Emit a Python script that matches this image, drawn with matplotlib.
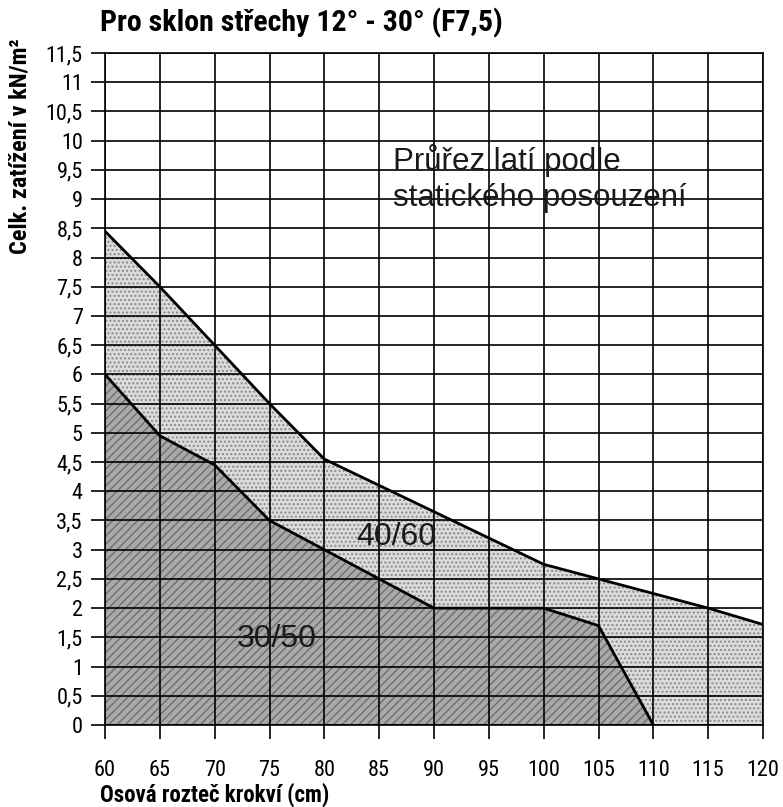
import matplotlib
matplotlib.use('Agg')
import matplotlib.pyplot as plt
from matplotlib import font_manager as fm
import numpy as np

# ---- data ----
x_upper = [60, 65, 70, 75, 80, 85, 90, 95, 100, 105, 110, 115, 120]
upper_40_60 = [8.45, 7.5, 6.5, 5.5, 4.55, 4.1, 3.65, 3.2, 2.75, 2.5, 2.25, 2.0, 1.72]
x_lower = [60, 65, 70, 75, 80, 85, 90, 95, 100, 105, 110]
lower_30_50 = [6.0, 4.95, 4.45, 3.5, 3.0, 2.5, 2.0, 2.0, 2.0, 1.7, 0.0]
x_ticks = [60, 65, 70, 75, 80, 85, 90, 95, 100, 105, 110, 115, 120]
y_ticks = [0, 0.5, 1, 1.5, 2, 2.5, 3, 3.5, 4, 4.5, 5, 5.5, 6, 6.5, 7, 7.5,
           8, 8.5, 9, 9.5, 10, 10.5, 11, 11.5]
y_tick_labels = ['0', '0,5', '1', '1,5', '2', '2,5', '3', '3,5', '4', '4,5',
                 '5', '5,5', '6', '6,5', '7', '7,5', '8', '8,5', '9', '9,5',
                 '10', '10,5', '11', '11,5']
title = 'Pro sklon střechy 12° - 30° (F7,5)'
x_label = 'Osová rozteč krokví (cm)'
y_label = 'Celk. zatížení v kN/m²'
zone_note = ['Průřez latí podle', 'statického posouzení']
label_upper = '40/60'
label_lower = '30/50'

# ---- fonts ----
names = {f.name for f in fm.fontManager.ttflist}
cond = None
for cand in ['Liberation Sans Narrow', 'DejaVu Sans Condensed', 'Roboto Condensed',
             'Open Sans Condensed']:
    if cand in names:
        cond = dict(family=cand)
        break
if cond is None:
    has_dv_cond = any(f.name == 'DejaVu Sans' and f.stretch == 'condensed'
                      for f in fm.fontManager.ttflist)
    cond = dict(family='DejaVu Sans', stretch='condensed' if has_dv_cond else 'normal')

W, H = 783, 807
fig = plt.figure(figsize=(W / 100, H / 100), dpi=100)
ax = fig.add_axes([105 / W, 1 - 725 / H, (763 - 105) / W, (725 - 53) / H])

# fills
xu = np.array(x_upper, dtype=float)
yu = np.array(upper_40_60, dtype=float)
xl = np.array(x_lower, dtype=float)
yl = np.array(lower_30_50, dtype=float)
ax.fill_between(xu, 0, yu, facecolor='#dcdcdc', edgecolor='none', zorder=1)
ax.fill_between(xu, 0, yu, facecolor='none', edgecolor='#8a8a8a', hatch='....',
                linewidth=0, zorder=1.1)
ax.fill_between(xl, 0, yl, facecolor='#a9a9a9', edgecolor='none', zorder=1.2)
ax.fill_between(xl, 0, yl, facecolor='none', edgecolor='#6e6e6e', hatch='////',
                linewidth=0, zorder=1.3)

ax.plot(xu, yu, color='black', lw=2.0, zorder=4, solid_joinstyle='miter')
ax.plot(xl, yl, color='black', lw=2.0, zorder=4, solid_joinstyle='miter')

ax.set_xlim(60, 120)
ax.set_ylim(0, 11.5)
ax.set_xticks(x_ticks)
ax.set_xticklabels([str(v) for v in x_ticks])
ax.set_yticks(y_ticks)
ax.set_yticklabels(y_tick_labels)
ax.grid(True, color='black', lw=1.2, zorder=2)
ax.set_axisbelow(False)
for s in ax.spines.values():
    s.set_color('black')
    s.set_linewidth(1.2)
    s.set_zorder(3)
ax.tick_params(axis='both', direction='out', length=10, width=1.2, colors='black')
ax.tick_params(axis='y', pad=6)
ax.tick_params(axis='x', pad=15)
for lab in ax.get_xticklabels() + ax.get_yticklabels():
    lab.set_fontsize(16)
    lab.set_family(cond['family'])
    if 'stretch' in cond:
        lab.set_stretch(cond['stretch'])

txt_kw = dict(family='Liberation Sans', color='#1a1a1a', zorder=5)
ax.text(86.3, 9.5, zone_note[0], fontsize=22.5, ha='left', va='baseline', **txt_kw)
ax.text(86.3, 8.88, zone_note[1], fontsize=22.5, ha='left', va='baseline', **txt_kw)
ax.text(86.6, 3.22, label_upper, fontsize=23, ha='center', va='center', **txt_kw)
ax.text(75.7, 1.47, label_lower, fontsize=23, ha='center', va='center', **txt_kw)

fig.text(100 / W, 1 - 23 / H, title, fontsize=21.5, fontweight='bold',
         ha='left', va='center', **cond)
fig.text(100 / W, 1 - 795 / H, x_label, fontsize=16.5, fontweight='bold',
         ha='left', va='center', **cond)
fig.text(20 / W, 1 - 38 / H, y_label, fontsize=17.5, fontweight='bold',
         rotation=90, ha='center', va='top', **cond)

fig.savefig('out.png', dpi=100)
